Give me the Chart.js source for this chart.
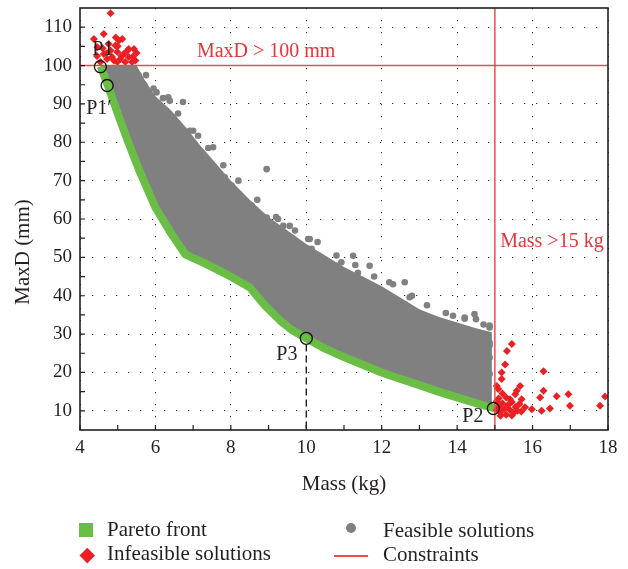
<!DOCTYPE html>
<html>
<head>
<meta charset="utf-8">
<script src="https://cdn.jsdelivr.net/npm/chart.js@4.4.1/dist/chart.umd.min.js"></script>
<style>
    body { margin: 0; background: #fff; }
    #wrap { position: relative; width: 628px; height: 569px; }
    #chart { position: absolute; left: 0; top: 0; }
    .lg { position: absolute; }
    .lg-text { font-family: "Liberation Serif", "Times New Roman", serif; font-size: 21px; line-height: 24px; color: #231f20; white-space: nowrap; }
</style>
</head>
<body>
<div id="wrap">
    <canvas id="chart" width="628" height="569"></canvas>
    <div class="lg" style="left:79px; top:523px; width:14px; height:14px; background:#6abd45;"></div>
    <div class="lg lg-text" style="left:107px; top:517px;">Pareto front</div>
    <div class="lg" style="left:82px; top:550px; width:10.5px; height:10.5px; background:#ec2024; transform:rotate(45deg);"></div>
    <div class="lg lg-text" style="left:107px; top:541px;">Infeasible solutions</div>
    <div class="lg" style="left:346px; top:523px; width:10px; height:10px; border-radius:50%; background:#808080;"></div>
    <div class="lg lg-text" style="left:383px; top:518px;">Feasible solutions</div>
    <div class="lg" style="left:334px; top:555px; width:34px; height:1.5px; background:#ef4b4b;"></div>
    <div class="lg lg-text" style="left:383px; top:542px;">Constraints</div>
</div>
<script>
// Pareto front: mass (kg) vs maximum displacement (mm)
const paretoMass = [4.55, 4.75, 5.0, 5.3, 5.6, 6.0, 6.4, 6.8, 7.3, 7.9, 8.5, 8.9, 9.3, 9.6, 10.0, 10.5, 11.0, 11.5, 12.0, 12.5, 13.0, 13.5, 14.0, 14.5, 15.0];
const paretoMaxD = [99.8, 94.5, 87.5, 79.5, 72, 63, 56.5, 50.7, 48.5, 45.5, 42.2, 37.5, 33.6, 31.2, 28.9, 26.2, 24.0, 22.0, 20.0, 18.3, 16.7, 15.0, 13.5, 12.0, 10.6];

// upper edge of the dense cloud of feasible designs
const cloudEdgeMass = [4.6, 5.5, 5.7, 6.0, 6.4, 6.8, 7.2, 7.6, 8.0, 8.5, 9.0, 9.5, 10.0, 10.5, 11.0, 11.5, 12.0, 12.5, 13.0, 13.5, 14.0, 14.5, 14.92, 14.92];
const cloudEdgeMaxD = [100, 100, 96.5, 92, 88.5, 84, 79, 74.5, 70, 65, 60.5, 57, 53.5, 50.5, 47.5, 45, 42.5, 39.5, 36.5, 34.5, 33, 31.5, 30.5, 11];

// feasible designs scattered around the edge of the cloud
const feasibleMass = [5.55, 5.7, 5.85, 6.03, 6.34, 6.38, 6.73, 6.12, 6.47, 6.91, 7.13, 7.53, 7.31, 7.84, 8.02, 8.55, 8.95, 7.97, 8.42, 8.5, 8.95, 9.25, 9.39, 9.17, 9.39, 10.05, 9.92, 10.14, 10.4, 10.53, 10.8, 9.56, 10.09, 11.24, 10.93, 11.68, 11.37, 11.15, 12.3, 12.61, 11.64, 12.74, 12.61, 12.87, 13.18, 13.31, 13.89, 14.2, 14.5, 14.86, 14.6, 13.89, 14.86, 14.86, 14.68, 14.46, 14.86, 14.86, 14.77, 14.81, 14.86,
    5.75, 5.95, 6.2, 6.6, 7.0, 7.4, 7.8, 8.2, 8.7, 9.2, 9.7, 10.3, 10.8, 11.3, 11.8, 12.2, 12.8, 13.2, 13.7, 14.2, 14.7];
const feasibleMaxD = [97.5, 95, 92, 93.0, 91.7, 90.8, 90.5, 88.7, 86.6, 83.0, 81.7, 78.7, 75.6, 70.9, 68.7, 63.5, 73.0, 68.7, 63.5, 62.2, 60.4, 60.0, 58.2, 55.2, 55.2, 54.8, 52.6, 52.2, 50.0, 48.7, 47.8, 58.2, 54.8, 50.4, 48.7, 47.8, 46.0, 44.3, 43.0, 43.5, 41.7, 39.6, 37.8, 35.2, 33.9, 33.9, 34.8, 34.3, 33.9, 32.2, 30.0, 31.3, 27.0, 19.6, 23.5, 35.2, 31.7, 23.9, 19.1, 15.7, 27.8,
    97.5, 94, 91.5, 87.5, 83, 78.5, 74, 70, 65, 60.5, 57, 54, 50.5, 48, 45, 43.5, 40, 37.5, 35.5, 34, 32.5];

// designs that break one of the constraints
const infeasibleMass = [4.81, 4.37, 4.63, 5.03, 5.12, 5.29, 5.43, 4.94, 4.81, 4.63, 4.99, 5.16, 5.29, 5.47, 5.07, 4.9, 4.72, 5.2, 4.99, 5.38, 4.46, 4.54, 4.76,
    4.45, 4.6, 4.7, 4.85, 5.0, 5.1, 5.25, 5.4, 5.5, 4.95,
    15.45, 15.32, 15.27, 15.18, 15.18, 15.05, 15.09, 15.67, 15.58, 15.54, 15.71, 15.4, 16.29, 16.29, 16.2, 16.64, 16.95, 16.99, 17.92, 17.79, 16.46, 16.24, 15.98, 15.8,
    15.05, 15.1, 15.15, 15.2, 15.25, 15.3, 15.35, 15.4, 15.45, 15.5, 15.55, 15.6, 15.3, 15.2, 15.1, 15.45, 15.65, 15.7, 15.05, 15.15];
const infeasibleMaxD = [113.6, 106.9, 108.2, 106.5, 106.9, 104.3, 104.3, 105.2, 103.9, 103.0, 103.5, 103.0, 102.2, 101.3, 101.7, 101.3, 101.7, 100.9, 100.9, 100.9, 104.8, 100.9, 105.6,
    102.5, 104.5, 103.2, 102.2, 105, 102.5, 103.8, 102.3, 103.3, 107.3,
    27.4, 25.6, 22.1, 20.0, 18.3, 16.5, 15.7, 16.5, 15.2, 14.3, 13.0, 13.0, 20.3, 15.2, 13.5, 13.8, 14.3, 11.3, 13.7, 11.3, 10.6, 10.0, 10.4, 10.9,
    12.5, 11, 9.6, 12, 10.5, 9, 11.5, 10.2, 12.3, 9.5, 11, 10, 13.5, 14.5, 13.2, 8.8, 11.8, 9.8, 10.2, 8.7];

// highlighted designs
const selectedNames = ['P1', 'P1\u2032', 'P3', 'P2'];
const selectedMass = [4.54, 4.72, 10.0, 14.96];
const selectedMaxD = [99.7, 94.8, 28.9, 10.6];

const massLimit = 15;
const maxDLimit = 100;

const xTicks = [4, 6, 8, 10, 12, 14, 16, 18];
const yTicks = [10, 20, 30, 40, 50, 60, 70, 80, 90, 100, 110];

const SERIF = '"Liberation Serif", "Times New Roman", serif';
const INK = '#231f20';
const RED = '#ef4b4b';

// text position relative to each highlighted marker, in pixels
const labelOffsets = [[-8, -12], [-21, 29], [-30, 22], [-31, 13]];
const limitNotes = [
    { text: 'MaxD > 100 mm', x: 7.1, y: 102.2 },
    { text: 'Mass >15 kg', x: 15.14, y: 52.7 }
];

const points = (xs, ys) => xs.map((x, i) => ({ x, y: ys[i] }));

const cloudShape = points(cloudEdgeMass, cloudEdgeMaxD).concat(points(paretoMass, paretoMaxD).reverse());

const chartDecor = {
    id: 'chartDecor',
    afterDatasetsDraw(chart) {
        const { ctx, chartArea: a, scales: { x, y } } = chart;
        ctx.save();

        // small inward ticks on the bottom and left axes
        ctx.strokeStyle = INK;
        ctx.lineWidth = 1.2;
        ctx.beginPath();
        for (let v = 4; v <= 18; v++) {
            const px = x.getPixelForValue(v);
            ctx.moveTo(px, a.bottom);
            ctx.lineTo(px, a.bottom - 5);
        }
        for (let v = 10; v <= 110; v += 5) {
            const py = y.getPixelForValue(v);
            ctx.moveTo(a.left, py);
            ctx.lineTo(a.left + 5, py);
        }
        ctx.stroke();

        ctx.lineWidth = 1.6;
        ctx.strokeRect(a.left, a.top, a.right - a.left, a.bottom - a.top);

        // names of the highlighted designs
        ctx.fillStyle = INK;
        ctx.font = `20px ${SERIF}`;
        ctx.textAlign = 'left';
        ctx.textBaseline = 'alphabetic';
        selectedNames.forEach((name, i) => {
            const px = x.getPixelForValue(selectedMass[i]);
            const py = y.getPixelForValue(selectedMaxD[i]);
            ctx.fillText(name, px + labelOffsets[i][0], py + labelOffsets[i][1]);
        });

        // constraint notes
        ctx.fillStyle = '#e8353a';
        limitNotes.forEach(note => {
            ctx.fillText(note.text, x.getPixelForValue(note.x), y.getPixelForValue(note.y));
        });

        // axis titles
        ctx.fillStyle = INK;
        ctx.font = `21px ${SERIF}`;
        ctx.textAlign = 'center';
        ctx.fillText('Mass (kg)', (a.left + a.right) / 2, 490);
        ctx.translate(29, 252);
        ctx.rotate(-Math.PI / 2);
        ctx.fillText('MaxD (mm)', 0, 0);

        ctx.restore();
    }
};

new Chart(document.getElementById('chart'), {
    type: 'line',
    data: {
        datasets: [
            {
                label: 'Selected',
                data: points(selectedMass, selectedMaxD),
                showLine: false,
                pointStyle: 'circle',
                pointRadius: 6,
                pointBorderWidth: 1.3,
                pointBorderColor: '#111',
                pointBackgroundColor: 'rgba(0,0,0,0)',
                order: 0
            },
            {
                label: 'P3 drop',
                data: [{ x: selectedMass[2], y: 27.3 }, { x: selectedMass[2], y: 5 }],
                borderColor: '#111',
                borderWidth: 1.3,
                borderDash: [7, 4],
                pointRadius: 0,
                order: 1
            },
            {
                label: 'Constraints',
                data: [{ x: 4, y: maxDLimit }, { x: 18, y: maxDLimit }],
                borderColor: RED,
                borderWidth: 1.5,
                pointRadius: 0,
                order: 2
            },
            {
                label: 'Mass limit',
                data: [{ x: massLimit, y: 5 }, { x: massLimit, y: 115 }],
                borderColor: RED,
                borderWidth: 1.5,
                pointRadius: 0,
                order: 2
            },
            {
                label: 'Infeasible solutions',
                data: points(infeasibleMass, infeasibleMaxD),
                showLine: false,
                pointStyle: 'rectRot',
                pointRadius: 4,
                pointBorderWidth: 0,
                pointBackgroundColor: '#ec2024',
                order: 3
            },
            {
                label: 'Pareto front',
                data: points(paretoMass, paretoMaxD),
                borderColor: '#6abd45',
                borderWidth: 8,
                borderJoinStyle: 'round',
                pointRadius: 0,
                tension: 0,
                order: 4
            },
            {
                label: 'Feasible solutions',
                data: points(feasibleMass, feasibleMaxD),
                showLine: false,
                pointStyle: 'circle',
                pointRadius: 3.3,
                pointBorderWidth: 0,
                pointBackgroundColor: '#808080',
                order: 5
            },
            {
                label: 'Feasible cloud',
                data: cloudShape,
                borderWidth: 0,
                backgroundColor: '#808080',
                fill: 'shape',
                pointRadius: 0,
                order: 6
            }
        ]
    },
    options: {
        responsive: false,
        animation: false,
        events: [],
        layout: { padding: { top: 8, right: 20, left: 0, bottom: 0 } },
        plugins: {
            legend: { display: false },
            tooltip: { enabled: false }
        },
        scales: {
            x: {
                type: 'linear',
                min: 4,
                max: 18,
                afterFit: scale => {
                    scale.height = 139;
                    scale.paddingLeft = 0;
                    scale.paddingRight = 0;
                },
                afterBuildTicks: scale => { scale.ticks = xTicks.map(value => ({ value })); },
                grid: { color: '#333', lineWidth: 1, drawTicks: false },
                border: { display: false, dash: [1.2, 10.8] },
                ticks: { color: INK, font: { family: SERIF, size: 19 }, padding: 7, maxRotation: 0 }
            },
            y: {
                min: 5,
                max: 115,
                afterFit: scale => {
                    scale.width = 80;
                    scale.paddingTop = 0;
                    scale.paddingBottom = 0;
                },
                afterBuildTicks: scale => { scale.ticks = yTicks.map(value => ({ value })); },
                grid: { color: '#333', lineWidth: 1, drawTicks: false },
                border: { display: false, dash: [1.2, 10.8] },
                ticks: { color: INK, font: { family: SERIF, size: 19 }, padding: 8 }
            }
        }
    },
    plugins: [chartDecor]
});
</script>
</body>
</html>
